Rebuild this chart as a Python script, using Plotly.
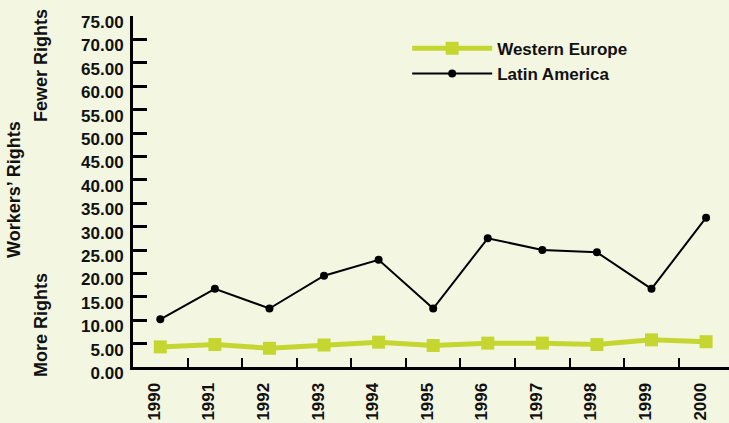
import plotly.graph_objects as go

years = ["1990", "1991", "1992", "1993", "1994", "1995", "1996", "1997", "1998", "1999", "2000"]
western_europe = [4.3, 4.8, 4.0, 4.7, 5.3, 4.6, 5.1, 5.1, 4.8, 5.8, 5.4]
latin_america = [10.2, 16.7, 12.5, 19.5, 22.9, 12.5, 27.5, 25.0, 24.5, 16.7, 31.9]
y_ticks = [0, 5, 10, 15, 20, 25, 30, 35, 40, 45, 50, 55, 60, 65, 70, 75]

BG = "#f3f6e1"
GREEN = "#c5d631"
FONT = "Liberation Sans, Arial, sans-serif"
FS = 17

fig = go.Figure()
fig.add_trace(go.Scatter(
    x=years, y=western_europe, name="Western Europe", mode="lines+markers",
    line=dict(color=GREEN, width=5), marker=dict(symbol="square", size=13, color=GREEN),
))
fig.add_trace(go.Scatter(
    x=years, y=latin_america, name="Latin America", mode="lines+markers",
    line=dict(color="black", width=2), marker=dict(symbol="circle", size=8, color="black"),
))

fig.update_layout(
    width=729, height=423,
    paper_bgcolor=BG, plot_bgcolor=BG,
    margin=dict(l=133, r=0, t=16, b=56),
    font=dict(family=FONT, size=FS, color="#111111"),
    showlegend=True,
    legend=dict(
        x=0.46, y=0.958, xanchor="left", yanchor="top",
        bgcolor="rgba(0,0,0,0)", itemwidth=80,
        font=dict(family=FONT, size=FS, color="#111111", weight="bold"),
        tracegroupgap=0,
    ),
    xaxis=dict(
        type="category", tickson="boundaries", range=[-0.5, 10.42],
        showgrid=False, zeroline=False,
        showline=True, linecolor="black", linewidth=3,
        ticks="inside", ticklen=9, tickwidth=2, tickcolor="black",
        tickangle=-90, ticklabelstandoff=6, ticklabelshift=-6,
        tickfont=dict(family=FONT, size=FS, color="#111111", weight="bold"),
    ),
    yaxis=dict(
        range=[0, 75], tickvals=y_ticks,
        ticktext=[f"{v:.2f}" for v in y_ticks],
        showgrid=False, zeroline=False,
        showline=True, linecolor="black", linewidth=3,
        ticks="inside", ticklen=14, tickwidth=2.5, tickcolor="black",
        ticklabelstandoff=3, ticklabelshift=6,
        tickfont=dict(family=FONT, size=FS, color="#111111", weight="bold"),
    ),
)

ann_font = dict(family=FONT, size=18, color="#111111", weight="bold")
fig.add_annotation(text="Workers’ Rights", textangle=-90, xref="paper", yref="paper",
                   x=-133 / 596 + 14 / 596, y=1 - (189 - 16) / 351,
                   showarrow=False, font=ann_font, xanchor="center", yanchor="middle")
fig.add_annotation(text="Fewer Rights", textangle=-90, xref="paper", yref="paper",
                   x=-133 / 596 + 41 / 596, y=1 - (66 - 16) / 351,
                   showarrow=False, font=ann_font, xanchor="center", yanchor="middle")
fig.add_annotation(text="More Rights", textangle=-90, xref="paper", yref="paper",
                   x=-133 / 596 + 41 / 596, y=1 - (325 - 16) / 351,
                   showarrow=False, font=ann_font, xanchor="center", yanchor="middle")

fig.write_html(
    "out.html",
    config={"displayModeBar": False},
    post_script="document.body.style.margin='0';document.body.style.overflow='hidden';",
)
